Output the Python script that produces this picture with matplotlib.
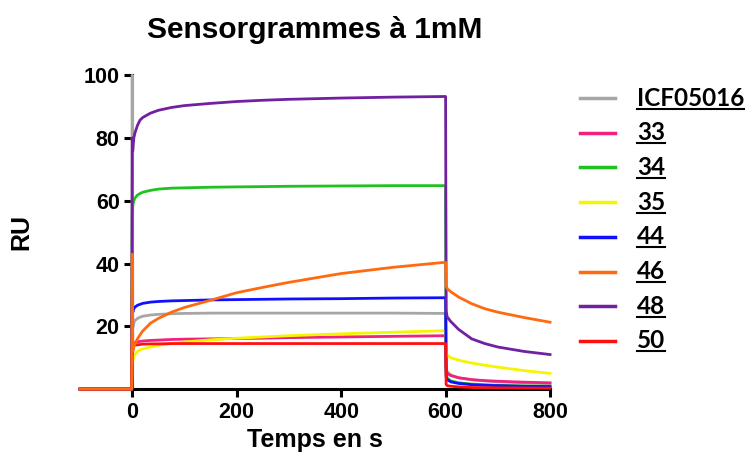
import numpy as np
import matplotlib.pyplot as plt
from matplotlib.lines import Line2D

# time points (s)
times = [-100, -1, 0, 1, 3, 5, 10, 15, 20, 35, 50, 75, 100, 150, 200, 250, 300, 400, 500, 600,
         601, 603, 610, 625, 650, 675, 700, 750, 800]

labels = ["ICF05016", "33", "34", "35", "44", "46", "48", "50"]
colors = ["#a6a6a6", "#f2207f", "#1fc21f", "#f5f500", "#1010ff", "#ff6a10", "#7020a0", "#ff1010"]

ru_icf = [0, 0, 100, 19.5, 21, 21.8, 22.5, 22.9, 23.2, 23.6, 23.8, 24, 24.1, 24.2, 24.2, 24.2, 24.2, 24.2, 24.2, 24.1,
          7, 5.5, 4.5, 3.6, 3, 2.6, 2.3, 2, 1.7]
ru_33 = [0, 0, 30, 13.8, 14.5, 14.8, 15, 15.2, 15.3, 15.5, 15.6, 15.8, 15.9, 16, 16.1, 16.2, 16.4, 16.6, 16.8, 17,
         6.5, 5, 4.3, 3.6, 3, 2.7, 2.5, 2.2, 2]
ru_34 = [0, 0, 55, 58.5, 60, 60.8, 61.8, 62.3, 62.7, 63.3, 63.7, 64, 64.1, 64.3, 64.4, 64.5, 64.6, 64.7, 64.8, 64.8,
         5, 3.5, 2.6, 2, 1.6, 1.4, 1.2, 1, 0.9]
ru_35 = [0, 0, 8, 9, 10.2, 11, 12, 12.5, 12.8, 13.4, 13.9, 14.5, 15, 15.7, 16.2, 16.6, 17, 17.6, 18.1, 18.6,
         11.5, 10.8, 10, 9.2, 8.3, 7.6, 7, 5.9, 5]
ru_44 = [0, 0, 26, 24.5, 25.6, 26.1, 26.7, 27, 27.3, 27.7, 27.9, 28.1, 28.2, 28.4, 28.5, 28.6, 28.7, 28.8, 29, 29.1,
         4, 3, 2.3, 1.8, 1.4, 1.2, 1.1, 0.9, 0.8]
ru_46 = [0, 0, 43, 12, 13.5, 14.3, 16, 17.3, 18.5, 21, 22.5, 24.5, 26, 28.3, 30.7, 32.4, 34, 36.8, 38.8, 40.4,
         33, 32, 31, 29.3, 27.2, 25.6, 24.5, 22.8, 21.3]
ru_48 = [0, 0, 80, 76, 80, 81.5, 84, 85.7, 86.5, 87.9, 88.8, 89.7, 90.3, 91, 91.6, 92, 92.3, 92.7, 93, 93.2,
         25, 23, 21.5, 19, 16, 14.5, 13.4, 12, 11]
ru_50 = [0, 0, 14, 13.5, 13.8, 14, 14.1, 14.2, 14.3, 14.4, 14.4, 14.5, 14.5, 14.5, 14.5, 14.5, 14.5, 14.5, 14.5, 14.5,
         1.5, 1.1, 0.9, 0.7, 0.5, 0.45, 0.4, 0.35, 0.3]

series = [ru_icf, ru_33, ru_34, ru_35, ru_44, ru_46, ru_48, ru_50]
zorders = [3, 4, 4, 4, 4, 7, 4, 5]

plt.rcParams['font.family'] = ['Liberation Sans', 'DejaVu Sans']
plt.rcParams['font.weight'] = 'bold'

fig = plt.figure(figsize=(7.5, 4.61), dpi=100)
ax = fig.add_axes([0.1067, 0.156, 0.6267, 0.681])

for vals, col, z in zip(series, colors, zorders):
    ax.plot(times, vals, color=col, lw=2.0, zorder=z, clip_on=False)

ax.set_xlim(-100, 800)
ax.set_ylim(0, 100)
ax.set_xticks([0, 200, 400, 600, 800])
ax.set_yticks([20, 40, 60, 80, 100])
for s in ['top', 'right']:
    ax.spines[s].set_visible(False)
for s in ['left', 'bottom']:
    ax.spines[s].set_linewidth(2.2)
ax.spines['left'].set_position(('data', 0))
ax.tick_params(width=2.2, length=6, labelsize=15.5, pad=3)
for lab in ax.get_xticklabels() + ax.get_yticklabels():
    lab.set_fontweight('bold')

ax.set_title("Sensorgrammes à 1mM", fontsize=21.5, fontweight='bold', pad=27)
ax.set_xlabel("Temps en s", fontsize=18, fontweight='bold', labelpad=4)
ax.set_ylabel("RU", fontsize=18, fontweight='bold')
ax.yaxis.set_label_coords(-0.1, 0.5)

# manual legend with underlined labels
fig.canvas.draw()
renderer = fig.canvas.get_renderer()
y0 = 1 - 98 / 461
dy = 34.7 / 461
for i, (lab, col) in enumerate(zip(labels, colors)):
    y = y0 - i * dy
    fig.add_artist(Line2D([580 / 750, 615 / 750], [y, y], color=col, lw=2.5))
    t = fig.text(637 / 750, y, lab, fontsize=17.5, fontweight='bold',
                 family=['Lato', 'DejaVu Sans'], va='center', ha='left')
    bb = t.get_window_extent(renderer).transformed(fig.transFigure.inverted())
    fig.add_artist(Line2D([bb.x0, bb.x1], [bb.y0 + 0.002, bb.y0 + 0.002],
                          color='black', lw=1.5))

fig.savefig("out.png", dpi=100)
